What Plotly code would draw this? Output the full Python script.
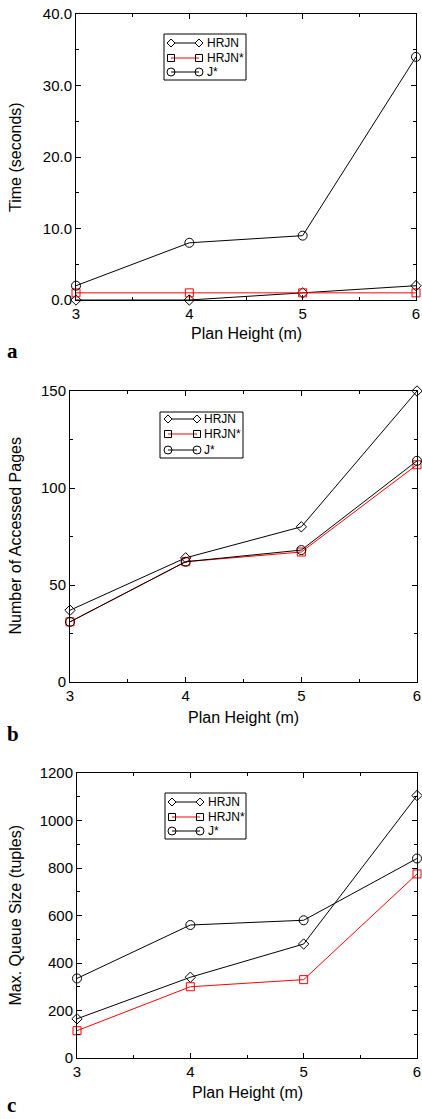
import plotly.graph_objects as go

W, H = 422, 1119

plan_height = [3, 4, 5, 6]
series_names = ["HRJN", "HRJN*", "J*"]

time_hrjn = [0.0, 0.0, 1.0, 2.0]
time_hrjn_star = [1.0, 1.0, 1.0, 1.0]
time_jstar = [2.0, 8.0, 9.0, 34.0]

pages_hrjn = [37, 64, 80, 150]
pages_hrjn_star = [31, 62, 67, 112]
pages_jstar = [31, 62, 68, 114]

queue_hrjn = [165, 340, 480, 1105]
queue_hrjn_star = [115, 300, 330, 775]
queue_jstar = [335, 560, 580, 840]

panel_letters = ["a", "b", "c"]
y_titles = ["Time (seconds)", "Number of Accessed Pages", "Max. Queue Size (tuples)"]
x_title = "Plan Height (m)"

# styles
symbols = ["diamond-open", "square-open", "circle-open"]
colors = ["black", "red", "black"]
msizes = [8, 8, 9]

# layout geometry in pixels: (x0, x1, ytop, ybottom)
panels = [
    dict(x0=76, x1=416, yt=14, yb=300, yrange=[0, 40], dtick=10, minor=5, fmt=".1f",
         data=[time_hrjn, time_hrjn_star, time_jstar],
         legend=dict(bx0=164, bx1=246, by0=34, by1=80, rows=[43, 58, 72], sx0=171, sx1=199, tx=205),
         letter_y=351, xtitle_y=333),
    dict(x0=70, x1=417, yt=391, yb=682, yrange=[0, 150], dtick=50, minor=25, fmt="d",
         data=[pages_hrjn, pages_hrjn_star, pages_jstar],
         legend=dict(bx0=160, bx1=243, by0=412, by1=458, rows=[419, 434, 450], sx0=168, sx1=197, tx=202),
         letter_y=734, xtitle_y=717),
    dict(x0=77, x1=417, yt=773, yb=1058, yrange=[0, 1200], dtick=200, minor=100, fmt="d",
         data=[queue_hrjn, queue_hrjn_star, queue_jstar],
         legend=dict(bx0=165, bx1=246, by0=793, by1=839, rows=[802, 817, 831], sx0=172, sx1=200, tx=206),
         letter_y=1105, xtitle_y=1092),
]

def px(x):
    return x / W

def py(y):
    return 1 - y / H

fig = go.Figure()
shapes = []
annotations = []
layout = {}
FONT = "Liberation Sans, Arial, sans-serif"

for i, p in enumerate(panels):
    n = "" if i == 0 else str(i + 1)
    xa, ya = "x" + n, "y" + n
    for k in range(3):
        fig.add_trace(go.Scatter(
            x=plan_height, y=p["data"][k], name=series_names[k],
            xaxis=xa, yaxis=ya, mode="lines+markers",
            line=dict(color=colors[k], width=1),
            marker=dict(symbol=symbols[k], size=msizes[k], color=colors[k],
                        line=dict(width=1, color=colors[k])),
            cliponaxis=False, showlegend=False,
        ))
    axis_common = dict(showline=True, linecolor="black", linewidth=1, mirror="ticks",
                       ticks="inside", ticklen=5, tickcolor="black", showgrid=False,
                       zeroline=False, automargin=False,
                       tickfont=dict(size=15, color="black", family=FONT))
    layout["xaxis" + n] = dict(axis_common, domain=[px(p["x0"]), px(p["x1"])],
                               range=[3, 6], dtick=1, tick0=3, anchor=ya,
                               minor=dict(ticks="inside", ticklen=3, dtick=0.5, tickcolor="black"))
    layout["yaxis" + n] = dict(axis_common, domain=[py(p["yb"]), py(p["yt"])],
                               range=p["yrange"], dtick=p["dtick"], tick0=0, anchor=xa,
                               tickformat=p["fmt"],
                               minor=dict(ticks="inside", ticklen=3, dtick=p["minor"], tickcolor="black"))
    # axis titles
    annotations.append(dict(text=x_title, xref="paper", yref="paper",
                            x=px((p["x0"] + p["x1"]) / 2), y=py(p["xtitle_y"]),
                            showarrow=False, font=dict(size=16, color="black", family=FONT),
                            xanchor="center", yanchor="middle"))
    annotations.append(dict(text=y_titles[i], xref="paper", yref="paper",
                            x=px(15), y=py((p["yt"] + p["yb"]) / 2), textangle=-90,
                            showarrow=False, font=dict(size=16, color="black", family=FONT),
                            xanchor="center", yanchor="middle"))
    annotations.append(dict(text="<b>" + panel_letters[i] + "</b>", xref="paper", yref="paper",
                            x=px(5), y=py(p["letter_y"]), showarrow=False,
                            font=dict(size=21, color="black", family="Liberation Serif, serif"),
                            xanchor="left", yanchor="middle"))
    # custom legend (gnuplot style: markers at both ends of sample)
    lg = p["legend"]
    shapes.append(dict(type="rect", xref="paper", yref="paper",
                       x0=px(lg["bx0"]), x1=px(lg["bx1"]), y0=py(lg["by1"]), y1=py(lg["by0"]),
                       line=dict(color="black", width=1), fillcolor="white", layer="above"))
    for k in range(3):
        yy = lg["rows"][k]
        shapes.append(dict(type="line", xref="paper", yref="paper",
                           x0=px(lg["sx0"]), x1=px(lg["sx1"]), y0=py(yy), y1=py(yy),
                           line=dict(color=colors[k], width=1), layer="above"))
        for xx in (lg["sx0"], lg["sx1"]):
            if k == 0:
                r = 4
                path = "M {a},{b} L {c},{d} L {e},{f} L {g},{h} Z".format(
                    a=px(xx), b=py(yy - r), c=px(xx + r), d=py(yy),
                    e=px(xx), f=py(yy + r), g=px(xx - r), h=py(yy))
                shapes.append(dict(type="path", xref="paper", yref="paper", path=path,
                                   line=dict(color="black", width=1), fillcolor="white", layer="above"))
            elif k == 1:
                r = 3.5
                shapes.append(dict(type="rect", xref="paper", yref="paper",
                                   x0=px(xx - r), x1=px(xx + r), y0=py(yy + r), y1=py(yy - r),
                                   line=dict(color="black", width=1), layer="above"))
            else:
                r = 4
                shapes.append(dict(type="circle", xref="paper", yref="paper",
                                   x0=px(xx - r), x1=px(xx + r), y0=py(yy + r), y1=py(yy - r),
                                   line=dict(color="black", width=1), layer="above"))
        annotations.append(dict(text=series_names[k], xref="paper", yref="paper",
                                x=px(lg["tx"]), y=py(yy), showarrow=False,
                                font=dict(size=12, color="black", family=FONT),
                                xanchor="left", yanchor="middle"))

fig.update_layout(
    template="none",
    width=W, height=H, margin=dict(l=0, r=0, t=0, b=0, pad=0),
    paper_bgcolor="white", plot_bgcolor="white",
    showlegend=False, shapes=shapes, annotations=annotations, **layout,
)

fig.write_html(
    "out.html",
    config={"displayModeBar": False},
    post_script="document.body.style.margin='0px';document.body.style.overflow='hidden';",
)
